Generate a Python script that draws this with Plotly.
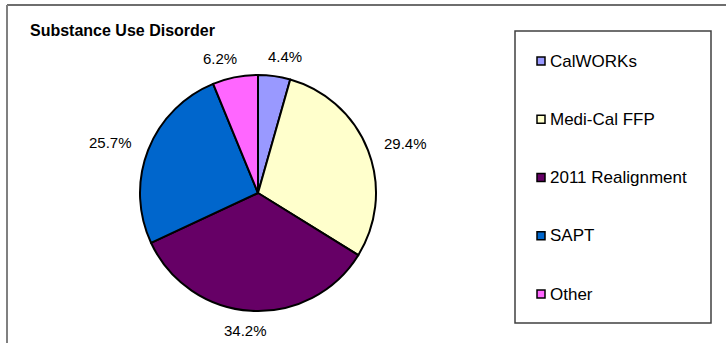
import math
import plotly.graph_objects as go

# ---- data ----
categories = ["CalWORKs", "Medi-Cal FFP", "2011 Realignment", "SAPT", "Other"]
values = [4.4, 29.4, 34.2, 25.7, 6.2]
colors = ["#9999FF", "#FFFFCC", "#660066", "#0066CC", "#FF66FF"]
title_text = "Substance Use Disorder"

W, H = 726, 343


def px(x):
    return x / W


def py(y):
    return 1 - y / H


# pie geometry (pixels)
CX, CY, R = 258, 193, 118

fig = go.Figure()
fig.add_trace(go.Pie(
    labels=categories,
    values=values,
    sort=False,
    direction="clockwise",
    rotation=0,
    marker=dict(colors=colors, line=dict(color="black", width=2)),
    textinfo="none",
    hoverinfo="label+percent",
    showlegend=False,
    domain=dict(x=[px(CX - R), px(CX + R)], y=[py(CY + R), py(CY - R)]),
))

FONT = "Liberation Sans, Arial, sans-serif"
annotations = []
shapes = []

# data labels computed from the values
total = sum(values)
cum = 0.0
LFS = 15
for v in values:
    mid = (cum + v / 2) / total * 2 * math.pi
    cum += v
    s, c = math.sin(mid), math.cos(mid)
    txt = f"{v / total * 100:.1f}%"
    w = len(txt) * 0.6 * LFS
    h = LFS
    r = R + 11
    x = CX + r * s + (w / 2 + 5) * min(1.0, abs(s) * 3) * (1 if s >= 0 else -1)
    y = CY - r * c - c * (h / 2 + 1)
    annotations.append(dict(
        x=px(x), y=py(y), xref="paper", yref="paper", text=txt,
        showarrow=False, xanchor="center", yanchor="middle",
        font=dict(family=FONT, size=LFS, color="black"),
    ))

# title
annotations.append(dict(
    x=px(28), y=py(31), xref="paper", yref="paper", text="<b>" + title_text + "</b>",
    showarrow=False, xanchor="left", yanchor="middle",
    font=dict(family=FONT, size=16, color="black"),
))

# outer chart border (top + left)
shapes.append(dict(type="line", xref="paper", yref="paper",
                   x0=px(7), x1=1, y0=py(5), y1=py(5),
                   line=dict(color="#6e6e6e", width=2)))
shapes.append(dict(type="line", xref="paper", yref="paper",
                   x0=px(7), x1=px(7), y0=py(5), y1=0,
                   line=dict(color="#808080", width=2)))

# legend box
shapes.append(dict(type="rect", xref="paper", yref="paper",
                   x0=px(515), x1=px(711), y0=py(323), y1=py(31),
                   line=dict(color="#404040", width=1.5), fillcolor="white"))

# legend entries
for i, (name, col) in enumerate(zip(categories, colors)):
    yc = 61 + i * 58.25
    shapes.append(dict(type="rect", xref="paper", yref="paper",
                       x0=px(537), x1=px(545), y0=py(yc + 4), y1=py(yc - 4),
                       line=dict(color="black", width=1.5), fillcolor=col))
    annotations.append(dict(
        x=px(548), y=py(yc), xref="paper", yref="paper", text=name,
        showarrow=False, xanchor="left", yanchor="middle",
        font=dict(family=FONT, size=17, color="black"),
    ))

fig.update_layout(
    width=W, height=H, autosize=False,
    margin=dict(l=0, r=0, t=0, b=0),
    paper_bgcolor="white", plot_bgcolor="white",
    shapes=shapes, annotations=annotations,
    showlegend=False,
)

fig.write_html("out.html")
